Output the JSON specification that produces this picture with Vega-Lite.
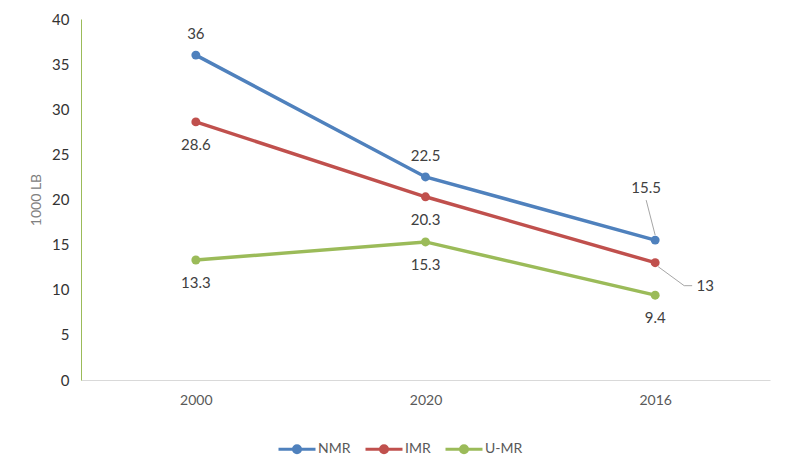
{
  "$schema": "https://vega.github.io/schema/vega-lite/v6.json",
  "width": 689,
  "height": 361,
  "autosize": {"type": "none"},
  "padding": {"left": 81, "top": 19, "right": 22, "bottom": 83},
  "background": "white",
  "config": {
    "view": {"stroke": null},
    "font": "Lato",
    "axis": {"labelFont": "Lato", "titleFont": "Lato"},
    "legend": {"labelFont": "Lato"}
  },
  "data": {
    "values": [
      {"year": "2000", "series": "NMR", "value": 36},
      {"year": "2020", "series": "NMR", "value": 22.5},
      {"year": "2016", "series": "NMR", "value": 15.5},
      {"year": "2000", "series": "IMR", "value": 28.6},
      {"year": "2020", "series": "IMR", "value": 20.3},
      {"year": "2016", "series": "IMR", "value": 13},
      {"year": "2000", "series": "U-MR", "value": 13.3},
      {"year": "2020", "series": "U-MR", "value": 15.3},
      {"year": "2016", "series": "U-MR", "value": 9.4}
    ]
  },
  "encoding": {
    "x": {
      "field": "year",
      "type": "ordinal",
      "sort": ["2000", "2020", "2016"],
      "scale": {"type": "point", "padding": 0.5},
      "axis": {
        "title": null,
        "labelAngle": 0,
        "labelColor": "#595959",
        "labelFontSize": 14,
        "labelPadding": 13,
        "ticks": false,
        "domainColor": "#d9d9d9",
        "domainWidth": 1,
        "grid": false
      }
    },
    "y": {
      "field": "value",
      "type": "quantitative",
      "scale": {"domain": [0, 40], "nice": false},
      "axis": {
        "title": "1000 LB",
        "titleColor": "#808080",
        "titleFontSize": 14,
        "titleFontWeight": "normal",
        "titlePadding": 8,
        "values": [0, 5, 10, 15, 20, 25, 30, 35, 40],
        "labelColor": "#333333",
        "labelFontSize": 15,
        "labelPadding": 12,
        "ticks": false,
        "grid": false,
        "domainColor": "#9bbb59",
        "domainWidth": 1
      }
    }
  },
  "layer": [
    {
      "mark": {"type": "line", "strokeWidth": 3.5},
      "encoding": {
        "color": {
          "field": "series",
          "type": "nominal",
          "sort": ["NMR", "IMR", "U-MR"],
          "scale": {"domain": ["NMR", "IMR", "U-MR"], "range": ["#4f81bd", "#c0504d", "#9bbb59"]},
          "legend": {
            "title": null,
            "orient": "none",
            "direction": "horizontal",
            "legendX": 196,
            "legendY": 410,
            "symbolType": "M-1,0L1,0M0.19,0A0.19,0.19 0 1,1 -0.19,0A0.19,0.19 0 1,1 0.19,0M0.081,0A0.081,0.081 0 1,1 -0.081,0A0.081,0.081 0 1,1 0.081,0",
            "symbolSize": 1369,
            "symbolStrokeWidth": 3,
            "labelColor": "#595959",
            "labelFontSize": 14,
            "labelOffset": 1,
            "columnPadding": 8
          }
        }
      }
    },
    {
      "mark": {"type": "point", "filled": true, "opacity": 1, "size": 80},
      "encoding": {
        "color": {"field": "series", "type": "nominal", "legend": null}
      }
    },
    {
      "transform": [{"filter": "datum.series == 'NMR' && datum.year != '2016'"}],
      "mark": {"type": "text", "dy": -21, "baseline": "middle", "fontSize": 15, "color": "#404040"},
      "encoding": {"text": {"field": "value"}}
    },
    {
      "transform": [{"filter": "datum.series != 'NMR' && !(datum.series == 'IMR' && datum.year == '2016')"}],
      "mark": {"type": "text", "dy": 23, "baseline": "middle", "fontSize": 15, "color": "#404040"},
      "encoding": {"text": {"field": "value"}}
    },
    {
      "transform": [{"filter": "datum.series == 'NMR' && datum.year == '2016'"}],
      "mark": {"type": "text", "dx": -9, "dy": -52, "baseline": "middle", "fontSize": 15, "color": "#404040"},
      "encoding": {"text": {"field": "value"}}
    },
    {
      "transform": [{"filter": "datum.series == 'IMR' && datum.year == '2016'"}],
      "mark": {"type": "text", "dx": 50, "dy": 23, "baseline": "middle", "fontSize": 15, "color": "#404040"},
      "encoding": {"text": {"field": "value"}}
    },
    {
      "transform": [{"filter": "datum.series == 'NMR' && datum.year == '2016'"}],
      "mark": {"type": "rule", "color": "#a6a6a6", "strokeWidth": 1, "yOffset": -5, "x2Offset": -9, "y2Offset": -40},
      "encoding": {"x2": {"field": "year"}, "y2": {"field": "value"}}
    },
    {
      "transform": [{"filter": "datum.series == 'IMR' && datum.year == '2016'"}],
      "mark": {"type": "rule", "color": "#a6a6a6", "strokeWidth": 1, "xOffset": 3, "yOffset": 4, "x2Offset": 29, "y2Offset": 23},
      "encoding": {"x2": {"field": "year"}, "y2": {"field": "value"}}
    },
    {
      "transform": [{"filter": "datum.series == 'IMR' && datum.year == '2016'"}],
      "mark": {"type": "rule", "color": "#a6a6a6", "strokeWidth": 1, "xOffset": 29, "yOffset": 23, "x2Offset": 37, "y2Offset": 23},
      "encoding": {"x2": {"field": "year"}, "y2": {"field": "value"}}
    }
  ]
}
